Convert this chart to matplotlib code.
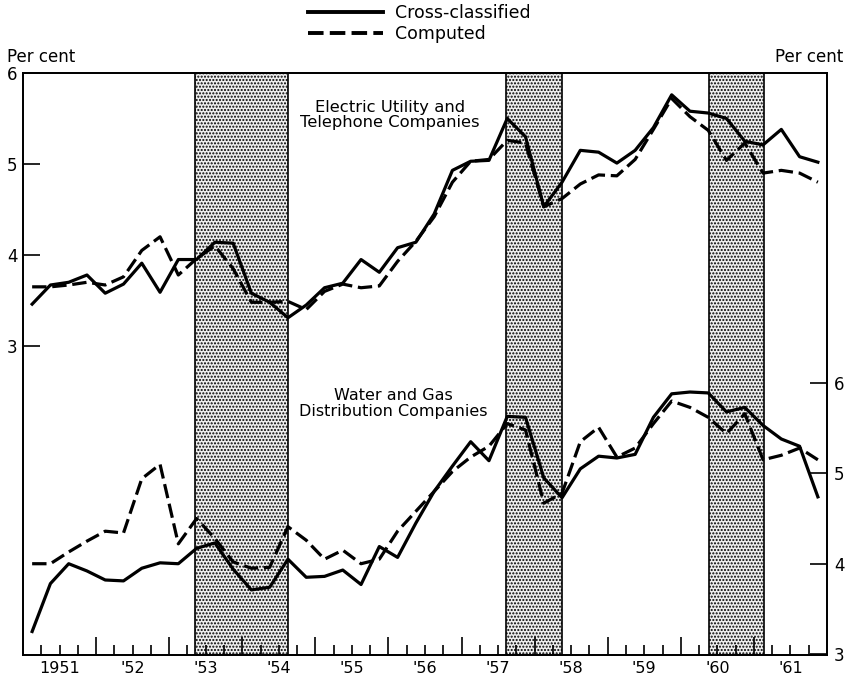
import matplotlib
matplotlib.use("Agg")
import matplotlib.pyplot as plt
from matplotlib.lines import Line2D

# quarterly observations, 1951 Q1 .. 1961 Q4 (plotted at mid-quarter)
years = list(range(1951, 1962))
quarters = [y + (q + 0.5) / 4 for y in years for q in range(4)]

# Electric Utility and Telephone Companies (left scale, per cent)
elec_cross = [3.46, 3.67, 3.70, 3.78,
              3.58, 3.68, 3.91, 3.59,
              3.95, 3.95, 4.14, 4.13,
              3.58, 3.48, 3.31, 3.45,
              3.64, 3.69, 3.95, 3.81,
              4.08, 4.14, 4.45, 4.93,
              5.03, 5.04, 5.50, 5.30,
              4.53, 4.80, 5.15, 5.13,
              5.01, 5.15, 5.40, 5.76,
              5.58, 5.56, 5.50, 5.25,
              5.21, 5.38, 5.08, 5.02]
elec_comp = [3.65, 3.65, 3.67, 3.70,
             3.67, 3.76, 4.05, 4.20,
             3.78, 3.96, 4.10, 3.85,
             3.48, 3.48, 3.49, 3.40,
             3.60, 3.68, 3.64, 3.66,
             3.93, 4.15, 4.42, 4.80,
             5.03, 5.05, 5.26, 5.23,
             4.53, 4.62, 4.78, 4.88,
             4.87, 5.05, 5.38, 5.72,
             5.52, 5.37, 5.04, 5.23,
             4.90, 4.93, 4.90, 4.80]

# Water and Gas Distribution Companies (right scale, per cent)
water_cross = [3.25, 3.78, 4.00, 3.92,
               3.82, 3.81, 3.95, 4.01,
               4.00, 4.17, 4.23, 3.94,
               3.71, 3.74, 4.05, 3.85,
               3.86, 3.93, 3.77, 4.19,
               4.07, 4.45, 4.80, 5.08,
               5.35, 5.14, 5.63, 5.62,
               4.95, 4.73, 5.05, 5.19,
               5.17, 5.21, 5.62, 5.88,
               5.90, 5.89, 5.68, 5.73,
               5.53, 5.38, 5.30, 4.74]
water_comp = [4.00, 4.00, 4.13, 4.25,
              4.36, 4.34, 4.94, 5.10,
              4.22, 4.50, 4.28, 4.02,
              3.95, 3.96, 4.41, 4.26,
              4.05, 4.15, 4.00, 4.05,
              4.36, 4.58, 4.80, 5.02,
              5.18, 5.30, 5.55, 5.48,
              4.67, 4.78, 5.35, 5.51,
              5.18, 5.28, 5.55, 5.80,
              5.73, 5.62, 5.44, 5.66,
              5.15, 5.20, 5.28, 5.15]

# shaded recession periods
recessions = [(1953.36, 1954.62), (1957.61, 1958.37), (1960.38, 1961.14)]

year_labels = ["1951", "'52", "'53", "'54", "'55", "'56",
               "'57", "'58", "'59", "'60", "'61"]
y_ticks = [3, 4, 5, 6]

fig = plt.figure(figsize=(8.51, 6.78), dpi=100)
ax = fig.add_axes([23 / 851, 1 - 655 / 678, 804 / 851, 582 / 678])
ax2 = ax.twinx()

for start, end in recessions:
    ax.axvspan(start, end, facecolor="#eeeeee", edgecolor="black",
               hatch=".....", linewidth=1.2, zorder=0)

lw = 2.3
dash = (4.5, 1.8)
ax.plot(quarters, elec_cross, color="black", lw=lw, zorder=3)
ax.plot(quarters, elec_comp, color="black", lw=lw, dashes=dash, zorder=3)
ax2.plot(quarters, water_cross, color="black", lw=lw, zorder=3)
ax2.plot(quarters, water_comp, color="black", lw=lw, dashes=dash, zorder=3)

ax.set_xlim(1951, 1962)
ax.set_ylim(-0.396, 6)
ax2.set_ylim(2.99, 9.43)

ax.set_yticks(y_ticks)
ax2.set_yticks(y_ticks)
ax.tick_params(axis="y", direction="in", length=12, width=1.2,
               labelsize=12, pad=4)
ax2.tick_params(axis="y", direction="in", length=12, width=1.2,
                labelsize=12, pad=5)

# quarter ticks (short, labels at mid-year) and year boundaries (long)
qticks = [y + k / 4 for y in years for k in (1, 2, 3)]
qlabels = [year_labels[i // 3] if i % 3 == 1 else "" for i in range(len(qticks))]
ax.set_xticks(qticks, qlabels)
ax.set_xticks(years[1:], minor=True)
ax.tick_params(axis="x", which="major", direction="in", length=7,
               width=1.2, labelsize=11.5, pad=4)
ax.tick_params(axis="x", which="minor", direction="in", length=13, width=1.2)

for a in (ax, ax2):
    for s in a.spines.values():
        s.set_linewidth(1.3)

ax.text(1956.02, 5.54, "Electric Utility and\nTelephone Companies",
        ha="center", va="center", fontsize=11.8, linespacing=1.05, zorder=4)
ax2.text(1956.07, 5.77, "Water and Gas\nDistribution Companies",
         ha="center", va="center", fontsize=11.5, linespacing=1.05, zorder=4)

fig.text(7 / 851, 1 - 57 / 678, "Per cent", ha="left", va="center", fontsize=12)
fig.text(843 / 851, 1 - 57 / 678, "Per cent", ha="right", va="center", fontsize=12)

handles = [Line2D([], [], color="black", lw=lw + 0.5),
           Line2D([], [], color="black", lw=lw + 0.5, dashes=(4, 1.6))]
fig.legend(handles, ["Cross-classified", "Computed"], loc="upper left",
           bbox_to_anchor=(308 / 851, 1 - 4 / 678), frameon=False,
           handlelength=4.3, handletextpad=0.7, labelspacing=0.2,
           borderpad=0, borderaxespad=0, fontsize=12.5)

fig.savefig("out.png", dpi=100)
